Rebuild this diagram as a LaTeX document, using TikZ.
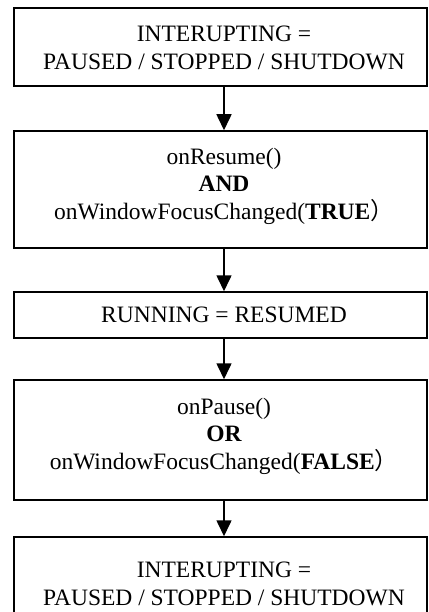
\documentclass[tikz,border=0pt]{standalone}
\usepackage{fontspec}
\setmainfont{Liberation Serif}
\newfontfamily\cjkfont{Noto Sans CJK SC}
\usetikzlibrary{arrows.meta}
\tikzset{
  box/.style={draw=black, line width=1.5pt, minimum width=413pt, inner sep=0pt, fill=white},
  txt/.style={align=center, inner sep=0pt, font=\fontsize{23.5pt}{28pt}\selectfont},
  arr/.style={line width=1.6pt, -{Triangle[width=15pt,length=16pt]}}
}
\newcommand{\fwparen}{{\cjkfont ）}}
\begin{document}
\begin{tikzpicture}[x=1pt,y=-1pt]
\useasboundingbox (0,0) rectangle (428,612);
\clip (0,0) rectangle (428,612);
\node[box, minimum height=78pt] (b1) at (220.5,47) {};
\node[box, minimum height=117pt] (b2) at (220.5,189.5) {};
\node[box, minimum height=46pt] (b3) at (220.5,315) {};
\node[box, minimum height=120pt] (b4) at (220.5,440) {};
\node[box, minimum height=92pt] (b5) at (220.5,583) {};
\node[txt] (t1) at (224,48) {INTERUPTING =\\PAUSED / STOPPED / SHUTDOWN};
\node[txt, font=\fontsize{23.5pt}{27.5pt}\selectfont] (t2) at (224,186) {onResume()\\\textbf{AND}\\onWindowFocusChanged(\textbf{TRUE}\fwparen};
\node[txt] (t3) at (224,315) {RUNNING = RESUMED};
\node[txt, font=\fontsize{23.5pt}{27.5pt}\selectfont] (t4) at (224,436) {onPause()\\\textbf{OR}\\onWindowFocusChanged(\textbf{FALSE}\fwparen};
\node[txt] (t5) at (224,584) {INTERUPTING =\\PAUSED / STOPPED / SHUTDOWN};
\draw[arr] (b1.south -| t1) -- (b2.north -| t1);
\draw[arr] (b2.south -| t2) -- (b3.north -| t2);
\draw[arr] (b3.south -| t3) -- (b4.north -| t3);
\draw[arr] (b4.south -| t4) -- (b5.north -| t4);
\end{tikzpicture}
\end{document}
